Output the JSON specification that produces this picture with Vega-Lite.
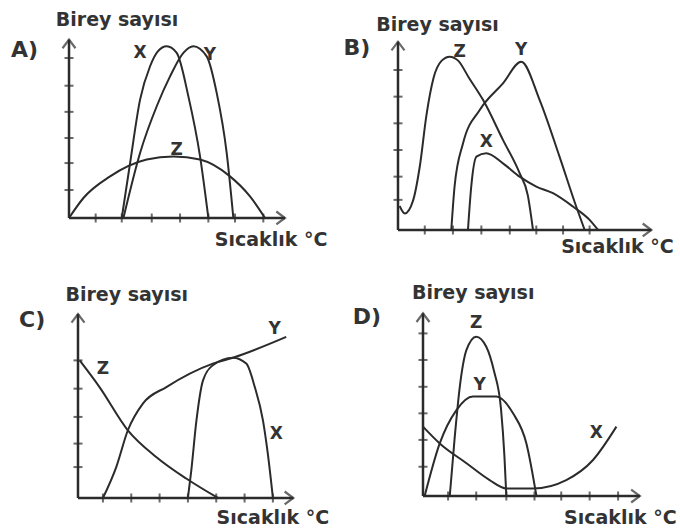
{
  "$schema": "https://vega.github.io/schema/vega-lite/v6.json",
  "padding": 0,
  "background": "white",
  "config": {"view": {"stroke": null}},
  "columns": 2,
  "spacing": 0,
  "bounds": "flush",
  "datasets": {
    "curves": [
      {"p":"A","s":"X","x":1.9,"y":0},{"p":"A","s":"X","x":2.2,"y":2.06},{"p":"A","s":"X","x":2.56,"y":4.44},{"p":"A","s":"X","x":2.92,"y":5.69},{"p":"A","s":"X","x":3.2,"y":6.25},{"p":"A","s":"X","x":3.52,"y":6.44},{"p":"A","s":"X","x":3.88,"y":6.19},{"p":"A","s":"X","x":4.3,"y":4.56},{"p":"A","s":"X","x":4.72,"y":2.31},{"p":"A","s":"X","x":5.02,"y":0},
      {"p":"A","s":"Y","x":1.96,"y":0},{"p":"A","s":"Y","x":2.56,"y":2.44},{"p":"A","s":"Y","x":3.16,"y":4.19},{"p":"A","s":"Y","x":3.64,"y":5.31},{"p":"A","s":"Y","x":4.12,"y":6.19},{"p":"A","s":"Y","x":4.48,"y":6.44},{"p":"A","s":"Y","x":4.96,"y":6.06},{"p":"A","s":"Y","x":5.32,"y":4.69},{"p":"A","s":"Y","x":5.68,"y":2.44},{"p":"A","s":"Y","x":5.92,"y":0},
      {"p":"A","s":"Z","x":0,"y":0},{"p":"A","s":"Z","x":0.52,"y":0.75},{"p":"A","s":"Z","x":1.48,"y":1.56},{"p":"A","s":"Z","x":2.8,"y":2.19},{"p":"A","s":"Z","x":3.76,"y":2.31},{"p":"A","s":"Z","x":4.72,"y":2.19},{"p":"A","s":"Z","x":5.8,"y":1.56},{"p":"A","s":"Z","x":6.52,"y":0.81},{"p":"A","s":"Z","x":7.06,"y":0},
      {"p":"B","s":"Z","x":0.06,"y":0.9},{"p":"B","s":"Z","x":0.25,"y":0.62},{"p":"B","s":"Z","x":0.55,"y":1.1},{"p":"B","s":"Z","x":0.8,"y":2.4},{"p":"B","s":"Z","x":1.04,"y":4.3},{"p":"B","s":"Z","x":1.3,"y":5.7},{"p":"B","s":"Z","x":1.6,"y":6.35},{"p":"B","s":"Z","x":1.89,"y":6.5},{"p":"B","s":"Z","x":2.2,"y":6.35},{"p":"B","s":"Z","x":2.6,"y":5.7},{"p":"B","s":"Z","x":3.11,"y":4.88},{"p":"B","s":"Z","x":3.84,"y":3.38},{"p":"B","s":"Z","x":4.45,"y":2.13},{"p":"B","s":"Z","x":4.75,"y":1.3},{"p":"B","s":"Z","x":4.94,"y":0},
      {"p":"B","s":"Y","x":1.95,"y":0},{"p":"B","s":"Y","x":2.07,"y":1.63},{"p":"B","s":"Y","x":2.38,"y":3.25},{"p":"B","s":"Y","x":2.99,"y":4.5},{"p":"B","s":"Y","x":3.84,"y":5.5},{"p":"B","s":"Y","x":4.51,"y":6.31},{"p":"B","s":"Y","x":5.18,"y":4.88},{"p":"B","s":"Y","x":5.91,"y":2.75},{"p":"B","s":"Y","x":6.52,"y":0.88},{"p":"B","s":"Y","x":6.83,"y":0},
      {"p":"B","s":"X","x":2.56,"y":0},{"p":"B","s":"X","x":2.68,"y":1.63},{"p":"B","s":"X","x":2.87,"y":2.75},{"p":"B","s":"X","x":3.23,"y":2.88},{"p":"B","s":"X","x":3.84,"y":2.5},{"p":"B","s":"X","x":4.45,"y":2.0},{"p":"B","s":"X","x":5.06,"y":1.63},{"p":"B","s":"X","x":5.67,"y":1.38},{"p":"B","s":"X","x":6.4,"y":0.88},{"p":"B","s":"X","x":7.01,"y":0.38},{"p":"B","s":"X","x":7.32,"y":0},
      {"p":"C","s":"Y","x":0.88,"y":0},{"p":"C","s":"Y","x":1.35,"y":1.16},{"p":"C","s":"Y","x":1.76,"y":2.54},{"p":"C","s":"Y","x":2.29,"y":3.54},{"p":"C","s":"Y","x":3.12,"y":4.16},{"p":"C","s":"Y","x":4.76,"y":5.04},{"p":"C","s":"Y","x":5.47,"y":5.26},{"p":"C","s":"Y","x":7.35,"y":6.04},
      {"p":"C","s":"Z","x":0.06,"y":5.16},{"p":"C","s":"Z","x":0.76,"y":4.16},{"p":"C","s":"Z","x":1.76,"y":2.54},{"p":"C","s":"Z","x":2.76,"y":1.54},{"p":"C","s":"Z","x":3.82,"y":0.73},{"p":"C","s":"Z","x":4.94,"y":0},
      {"p":"C","s":"X","x":3.88,"y":0},{"p":"C","s":"X","x":4.0,"y":1.04},{"p":"C","s":"X","x":4.18,"y":2.9},{"p":"C","s":"X","x":4.41,"y":4.4},{"p":"C","s":"X","x":4.76,"y":4.98},{"p":"C","s":"X","x":5.47,"y":5.26},{"p":"C","s":"X","x":5.94,"y":5.04},{"p":"C","s":"X","x":6.24,"y":4.16},{"p":"C","s":"X","x":6.53,"y":2.9},{"p":"C","s":"X","x":6.7,"y":1.66},{"p":"C","s":"X","x":6.88,"y":0},
      {"p":"D","s":"Z","x":0.96,"y":0},{"p":"D","s":"Z","x":1.14,"y":2.19},{"p":"D","s":"Z","x":1.32,"y":4.03},{"p":"D","s":"Z","x":1.56,"y":5.39},{"p":"D","s":"Z","x":1.91,"y":5.88},{"p":"D","s":"Z","x":2.27,"y":5.51},{"p":"D","s":"Z","x":2.55,"y":4.6},{"p":"D","s":"Z","x":2.8,"y":3.2},{"p":"D","s":"Z","x":2.92,"y":1.5},{"p":"D","s":"Z","x":2.99,"y":0},
      {"p":"D","s":"Y","x":0.06,"y":0},{"p":"D","s":"Y","x":0.6,"y":1.94},{"p":"D","s":"Y","x":1.2,"y":3.17},{"p":"D","s":"Y","x":1.79,"y":3.67},{"p":"D","s":"Y","x":2.63,"y":3.67},{"p":"D","s":"Y","x":3.23,"y":3.05},{"p":"D","s":"Y","x":3.71,"y":1.94},{"p":"D","s":"Y","x":4.07,"y":0},
      {"p":"D","s":"X","x":0,"y":2.56},{"p":"D","s":"X","x":0.6,"y":1.94},{"p":"D","s":"X","x":1.56,"y":1.21},{"p":"D","s":"X","x":2.39,"y":0.59},{"p":"D","s":"X","x":2.99,"y":0.28},{"p":"D","s":"X","x":3.95,"y":0.28},{"p":"D","s":"X","x":5.14,"y":0.59},{"p":"D","s":"X","x":6.1,"y":1.33},{"p":"D","s":"X","x":6.94,"y":2.56}
    ],
    "axes": [
      {"p":"A","d":"x","x":7.78,"y":0,"x2":0,"y2":0},{"p":"A","d":"y","x":0,"y":6.69,"x2":0,"y2":0},
      {"p":"B","d":"x","x":9.27,"y":0,"x2":0,"y2":0},{"p":"B","d":"y","x":0,"y":7.06,"x2":0,"y2":0},
      {"p":"C","d":"x","x":7.6,"y":0,"x2":0,"y2":0},{"p":"C","d":"y","x":0,"y":6.9,"x2":0,"y2":0},
      {"p":"D","d":"x","x":7.78,"y":0,"x2":0,"y2":0},{"p":"D","d":"y","x":0,"y":6.74,"x2":0,"y2":0}
    ],
    "ticks": [
      {"p":"A","d":"x","x":0.96,"y":0},{"p":"A","d":"x","x":1.9,"y":0},{"p":"A","d":"x","x":2.98,"y":0},{"p":"A","d":"x","x":4.0,"y":0},{"p":"A","d":"x","x":5.02,"y":0},{"p":"A","d":"x","x":5.98,"y":0},{"p":"A","d":"x","x":7.0,"y":0},
      {"p":"A","d":"y","x":0,"y":1.05},{"p":"A","d":"y","x":0,"y":2.06},{"p":"A","d":"y","x":0,"y":3.0},{"p":"A","d":"y","x":0,"y":3.98},{"p":"A","d":"y","x":0,"y":4.96},{"p":"A","d":"y","x":0,"y":6.0},
      {"p":"B","d":"x","x":0.98,"y":0},{"p":"B","d":"x","x":2.01,"y":0},{"p":"B","d":"x","x":3.05,"y":0},{"p":"B","d":"x","x":4.09,"y":0},{"p":"B","d":"x","x":5.06,"y":0},{"p":"B","d":"x","x":6.04,"y":0},{"p":"B","d":"x","x":7.01,"y":0},
      {"p":"B","d":"y","x":0,"y":1.13},{"p":"B","d":"y","x":0,"y":2.0},{"p":"B","d":"y","x":0,"y":3.0},{"p":"B","d":"y","x":0,"y":4.0},{"p":"B","d":"y","x":0,"y":5.0},{"p":"B","d":"y","x":0,"y":6.0},
      {"p":"C","d":"x","x":0.88,"y":0},{"p":"C","d":"x","x":1.88,"y":0},{"p":"C","d":"x","x":2.88,"y":0},{"p":"C","d":"x","x":3.88,"y":0},{"p":"C","d":"x","x":4.88,"y":0},{"p":"C","d":"x","x":5.88,"y":0},{"p":"C","d":"x","x":6.88,"y":0},
      {"p":"C","d":"y","x":0,"y":1.16},{"p":"C","d":"y","x":0,"y":2.04},{"p":"C","d":"y","x":0,"y":3.04},{"p":"C","d":"y","x":0,"y":4.1},{"p":"C","d":"y","x":0,"y":5.16},
      {"p":"D","d":"x","x":0.9,"y":0},{"p":"D","d":"x","x":1.91,"y":0},{"p":"D","d":"x","x":2.99,"y":0},{"p":"D","d":"x","x":4.0,"y":0},{"p":"D","d":"x","x":4.96,"y":0},{"p":"D","d":"x","x":5.98,"y":0},{"p":"D","d":"x","x":7.0,"y":0},
      {"p":"D","d":"y","x":0,"y":1.08},{"p":"D","d":"y","x":0,"y":2.07},{"p":"D","d":"y","x":0,"y":3.05},{"p":"D","d":"y","x":0,"y":4.03},{"p":"D","d":"y","x":0,"y":5.02},{"p":"D","d":"y","x":0,"y":6.0}
    ],
    "labels": [
      {"p":"A","k":"L","t":"A)","x":-1.6,"y":6.3},{"p":"A","k":"T","t":"Birey sayısı","x":1.73,"y":7.42},{"p":"A","k":"T","t":"Sıcaklık °C","x":7.28,"y":-0.825},
      {"p":"A","k":"S","t":"X","x":2.56,"y":6.19},{"p":"A","k":"S","t":"Y","x":5.08,"y":6.12},{"p":"A","k":"S","t":"Z","x":3.88,"y":2.56},
      {"p":"B","k":"L","t":"B)","x":-1.5,"y":6.82},{"p":"B","k":"T","t":"Birey sayısı","x":1.445,"y":7.69},{"p":"B","k":"T","t":"Sıcaklık °C","x":8.03,"y":-0.64},
      {"p":"B","k":"S","t":"Z","x":2.26,"y":6.69},{"p":"B","k":"S","t":"Y","x":4.51,"y":6.75},{"p":"B","k":"S","t":"X","x":3.23,"y":3.31},
      {"p":"C","k":"L","t":"C)","x":-1.62,"y":6.67},{"p":"C","k":"T","t":"Birey sayısı","x":1.72,"y":7.61},{"p":"C","k":"T","t":"Sıcaklık °C","x":6.88,"y":-0.75},
      {"p":"C","k":"S","t":"Y","x":6.94,"y":6.35},{"p":"C","k":"S","t":"Z","x":0.88,"y":4.85},{"p":"C","k":"S","t":"X","x":7.0,"y":2.41},
      {"p":"D","k":"L","t":"D)","x":-2.01,"y":6.6},{"p":"D","k":"T","t":"Birey sayısı","x":1.8,"y":7.49},{"p":"D","k":"T","t":"Sıcaklık °C","x":7.08,"y":-0.81},
      {"p":"D","k":"S","t":"Z","x":1.91,"y":6.37},{"p":"D","k":"S","t":"Y","x":2.03,"y":4.1},{"p":"D","k":"S","t":"X","x":6.22,"y":2.31}
    ]
  },
  "concat": [
    {
      "width": 340, "height": 266,
      "encoding": {
        "x": {"field": "x", "type": "quantitative", "scale": {"domain": [-2.486, 9.762], "nice": false, "zero": false}, "axis": null},
        "y": {"field": "y", "type": "quantitative", "scale": {"domain": [-1.8, 8.174], "nice": false, "zero": false}, "axis": null}
      },
      "layer": [
        {"data": {"name": "curves"}, "transform": [{"filter": "datum.p == 'A'"}], "mark": {"type": "line", "interpolate": "monotone", "stroke": "#2b2b2b", "strokeWidth": 2}, "encoding": {"detail": {"field": "s"}}},
        {"data": {"name": "axes"}, "transform": [{"filter": "datum.p == 'A'"}], "mark": {"type": "rule", "stroke": "#2b2b2b", "strokeWidth": 2.5}, "encoding": {"x2": {"field": "x2"}, "y2": {"field": "y2"}}},
        {"data": {"name": "axes"}, "transform": [{"filter": "datum.p == 'A'"}], "mark": {"type": "point", "filled": false, "stroke": "#2b2b2b", "strokeWidth": 2.2, "size": 300}, "encoding": {"shape": {"field": "d", "type": "nominal", "scale": {"domain": ["x", "y"], "range": ["M-1,-0.75L0,0L-1,0.75", "M-0.75,1L0,0L0.75,1"]}, "legend": null}}},
        {"data": {"name": "ticks"}, "transform": [{"filter": "datum.p == 'A' && datum.d == 'x'"}], "mark": {"type": "tick", "orient": "vertical", "color": "#2b2b2b", "size": 9, "thickness": 2}},
        {"data": {"name": "ticks"}, "transform": [{"filter": "datum.p == 'A' && datum.d == 'y'"}], "mark": {"type": "tick", "orient": "horizontal", "color": "#2b2b2b", "size": 9, "thickness": 2}},
        {"data": {"name": "labels"}, "transform": [{"filter": "datum.p == 'A'"}], "mark": {"type": "text", "font": "DejaVu Sans", "fontWeight": "bold", "color": "#333333", "align": "center", "baseline": "middle"}, "encoding": {"text": {"field": "t"}, "size": {"field": "k", "type": "nominal", "scale": {"type": "ordinal", "domain": ["S", "L", "T"], "range": [17, 22, 19]}, "legend": null}}}
      ]
    },
    {
      "width": 340, "height": 266,
      "encoding": {
        "x": {"field": "x", "type": "quantitative", "scale": {"domain": [-2.122, 10.318], "nice": false, "zero": false}, "axis": null},
        "y": {"field": "y", "type": "quantitative", "scale": {"domain": [-1.35, 8.624], "nice": false, "zero": false}, "axis": null}
      },
      "layer": [
        {"data": {"name": "curves"}, "transform": [{"filter": "datum.p == 'B'"}], "mark": {"type": "line", "interpolate": "monotone", "stroke": "#2b2b2b", "strokeWidth": 2}, "encoding": {"detail": {"field": "s"}}},
        {"data": {"name": "axes"}, "transform": [{"filter": "datum.p == 'B'"}], "mark": {"type": "rule", "stroke": "#2b2b2b", "strokeWidth": 2.5}, "encoding": {"x2": {"field": "x2"}, "y2": {"field": "y2"}}},
        {"data": {"name": "axes"}, "transform": [{"filter": "datum.p == 'B'"}], "mark": {"type": "point", "filled": false, "stroke": "#2b2b2b", "strokeWidth": 2.2, "size": 300}, "encoding": {"shape": {"field": "d", "type": "nominal", "scale": {"domain": ["x", "y"], "range": ["M-1,-0.75L0,0L-1,0.75", "M-0.75,1L0,0L0.75,1"]}, "legend": null}}},
        {"data": {"name": "ticks"}, "transform": [{"filter": "datum.p == 'B' && datum.d == 'x'"}], "mark": {"type": "tick", "orient": "vertical", "color": "#2b2b2b", "size": 9, "thickness": 2}},
        {"data": {"name": "ticks"}, "transform": [{"filter": "datum.p == 'B' && datum.d == 'y'"}], "mark": {"type": "tick", "orient": "horizontal", "color": "#2b2b2b", "size": 9, "thickness": 2}},
        {"data": {"name": "labels"}, "transform": [{"filter": "datum.p == 'B'"}], "mark": {"type": "text", "font": "DejaVu Sans", "fontWeight": "bold", "color": "#333333", "align": "center", "baseline": "middle"}, "encoding": {"text": {"field": "t"}, "size": {"field": "k", "type": "nominal", "scale": {"type": "ordinal", "domain": ["S", "L", "T"], "range": [17, 22, 19]}, "legend": null}}}
      ]
    },
    {
      "width": 340, "height": 266,
      "encoding": {
        "x": {"field": "x", "type": "quantitative", "scale": {"domain": [-2.753, 9.248], "nice": false, "zero": false}, "axis": null},
        "y": {"field": "y", "type": "quantitative", "scale": {"domain": [-1.275, 8.699], "nice": false, "zero": false}, "axis": null}
      },
      "layer": [
        {"data": {"name": "curves"}, "transform": [{"filter": "datum.p == 'C'"}], "mark": {"type": "line", "interpolate": "monotone", "stroke": "#2b2b2b", "strokeWidth": 2}, "encoding": {"detail": {"field": "s"}}},
        {"data": {"name": "axes"}, "transform": [{"filter": "datum.p == 'C'"}], "mark": {"type": "rule", "stroke": "#2b2b2b", "strokeWidth": 2.5}, "encoding": {"x2": {"field": "x2"}, "y2": {"field": "y2"}}},
        {"data": {"name": "axes"}, "transform": [{"filter": "datum.p == 'C'"}], "mark": {"type": "point", "filled": false, "stroke": "#2b2b2b", "strokeWidth": 2.2, "size": 300}, "encoding": {"shape": {"field": "d", "type": "nominal", "scale": {"domain": ["x", "y"], "range": ["M-1,-0.75L0,0L-1,0.75", "M-0.75,1L0,0L0.75,1"]}, "legend": null}}},
        {"data": {"name": "ticks"}, "transform": [{"filter": "datum.p == 'C' && datum.d == 'x'"}], "mark": {"type": "tick", "orient": "vertical", "color": "#2b2b2b", "size": 9, "thickness": 2}},
        {"data": {"name": "ticks"}, "transform": [{"filter": "datum.p == 'C' && datum.d == 'y'"}], "mark": {"type": "tick", "orient": "horizontal", "color": "#2b2b2b", "size": 9, "thickness": 2}},
        {"data": {"name": "labels"}, "transform": [{"filter": "datum.p == 'C'"}], "mark": {"type": "text", "font": "DejaVu Sans", "fontWeight": "bold", "color": "#333333", "align": "center", "baseline": "middle"}, "encoding": {"text": {"field": "t"}, "size": {"field": "k", "type": "nominal", "scale": {"type": "ordinal", "domain": ["S", "L", "T"], "range": [17, 22, 19]}, "legend": null}}}
      ]
    },
    {
      "width": 340, "height": 266,
      "encoding": {
        "x": {"field": "x", "type": "quantitative", "scale": {"domain": [-2.978, 9.221], "nice": false, "zero": false}, "axis": null},
        "y": {"field": "y", "type": "quantitative", "scale": {"domain": [-1.328, 8.487], "nice": false, "zero": false}, "axis": null}
      },
      "layer": [
        {"data": {"name": "curves"}, "transform": [{"filter": "datum.p == 'D'"}], "mark": {"type": "line", "interpolate": "monotone", "stroke": "#2b2b2b", "strokeWidth": 2}, "encoding": {"detail": {"field": "s"}}},
        {"data": {"name": "axes"}, "transform": [{"filter": "datum.p == 'D'"}], "mark": {"type": "rule", "stroke": "#2b2b2b", "strokeWidth": 2.5}, "encoding": {"x2": {"field": "x2"}, "y2": {"field": "y2"}}},
        {"data": {"name": "axes"}, "transform": [{"filter": "datum.p == 'D'"}], "mark": {"type": "point", "filled": false, "stroke": "#2b2b2b", "strokeWidth": 2.2, "size": 300}, "encoding": {"shape": {"field": "d", "type": "nominal", "scale": {"domain": ["x", "y"], "range": ["M-1,-0.75L0,0L-1,0.75", "M-0.75,1L0,0L0.75,1"]}, "legend": null}}},
        {"data": {"name": "ticks"}, "transform": [{"filter": "datum.p == 'D' && datum.d == 'x'"}], "mark": {"type": "tick", "orient": "vertical", "color": "#2b2b2b", "size": 9, "thickness": 2}},
        {"data": {"name": "ticks"}, "transform": [{"filter": "datum.p == 'D' && datum.d == 'y'"}], "mark": {"type": "tick", "orient": "horizontal", "color": "#2b2b2b", "size": 9, "thickness": 2}},
        {"data": {"name": "labels"}, "transform": [{"filter": "datum.p == 'D'"}], "mark": {"type": "text", "font": "DejaVu Sans", "fontWeight": "bold", "color": "#333333", "align": "center", "baseline": "middle"}, "encoding": {"text": {"field": "t"}, "size": {"field": "k", "type": "nominal", "scale": {"type": "ordinal", "domain": ["S", "L", "T"], "range": [17, 22, 19]}, "legend": null}}}
      ]
    }
  ]
}
